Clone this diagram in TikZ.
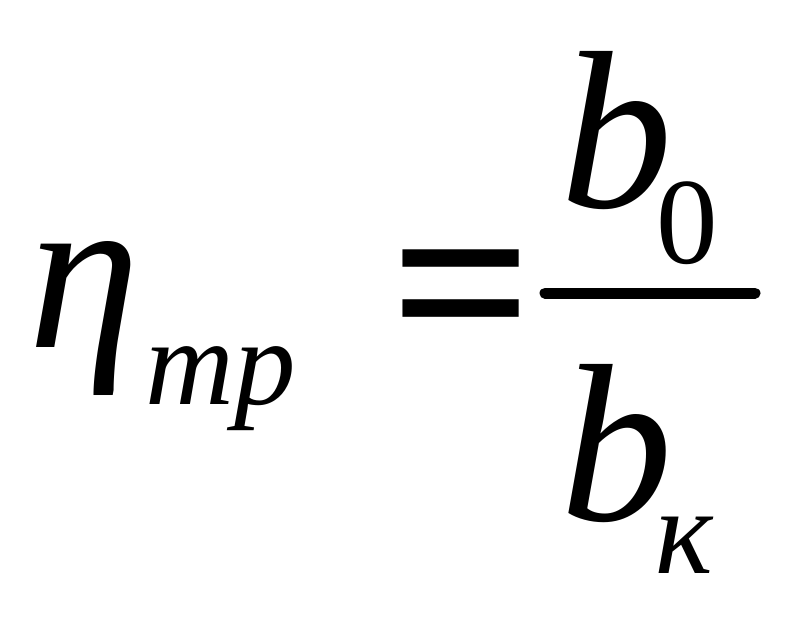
\documentclass[tikz,border=0pt]{standalone}
\usepackage{fontspec}
\usepackage{tikz}
\setmainfont{Liberation Serif}
\newcommand{\mainsz}{\fontsize{225pt}{240pt}\selectfont}
\newcommand{\relsz}{\fontsize{250pt}{260pt}\selectfont}
\newcommand{\subsz}{\fontsize{123pt}{130pt}\selectfont}
\tikzset{
  sym/.style={inner sep=0pt, anchor=base west, font=\mainsz\itshape},
  idx/.style={inner sep=0pt, anchor=base west, font=\subsz\itshape},
  num/.style={inner sep=0pt, anchor=base west, font=\subsz},
  rel/.style={inner sep=0pt, anchor=base west, font=\relsz\bfseries},
  barline/.style={draw=black, line width=11pt, line cap=round},
}
\begin{document}
\begin{tikzpicture}[x=1pt, y=-1pt]
  \useasboundingbox (0,0) rectangle (805,621);
  % left side
  \node[sym] (eta) at (28,347) {η};
  \node[idx] (etasub) at (145,404) {тр};
  \node[rel] (eq) at (390,366) {=};
  % fraction
  \node[sym] (bnum) at (560,207) {b};
  \node[num] (bnumsub) at (656,263) {0};
  \draw[barline] (545,293) -- (755,293);
  \node[sym] (bden) at (560,520) {b};
  \node[idx] (bdensub) at (655,573) {к};
\end{tikzpicture}
\end{document}
